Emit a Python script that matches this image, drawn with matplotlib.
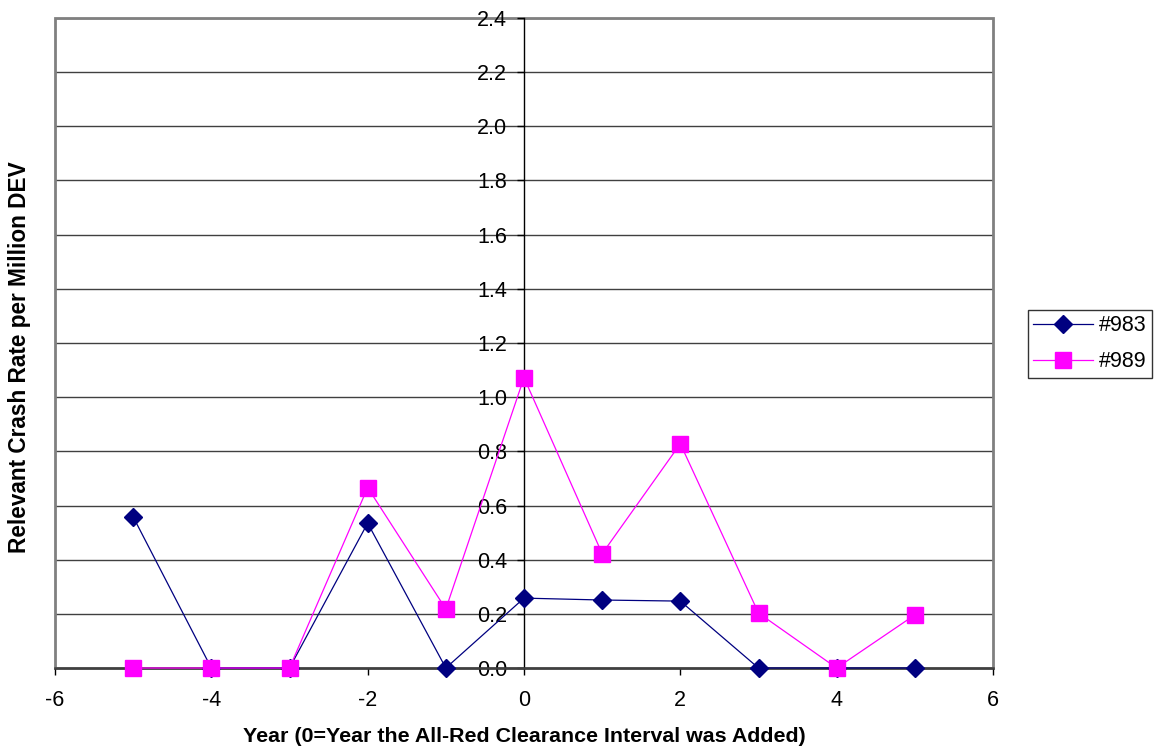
import matplotlib
matplotlib.use("Agg")
import matplotlib.pyplot as plt
from matplotlib.patches import Rectangle

plt.rcParams['font.family'] = ['Liberation Sans', 'DejaVu Sans']

years = [-5, -4, -3, -2, -1, 0, 1, 2, 3, 4, 5]
s983 = [0.558, 0.0, 0.0, 0.535, 0.0, 0.258, 0.251, 0.247, 0.0, 0.0, 0.0]
s989 = [0.0, 0.0, 0.0, 0.666, 0.218, 1.072, 0.422, 0.828, 0.203, 0.0, 0.196]
xticks = [-6, -4, -2, 0, 2, 4, 6]
yticks = [0.0, 0.2, 0.4, 0.6, 0.8, 1.0, 1.2, 1.4, 1.6, 1.8, 2.0, 2.2, 2.4]

W, H = 1161, 753
fig = plt.figure(figsize=(W / 100, H / 100), dpi=100)
ax = fig.add_axes([55 / W, 1 - 668 / H, (993 - 55) / W, (668 - 18) / H])

ax.set_xlim(-6, 6)
ax.set_ylim(0, 2.4)

for y in yticks[1:]:
    ax.axhline(y, color='#404040', lw=1.0, zorder=1)

ax.plot(years, s983, color='#000080', lw=0.9, marker='D', markersize=9,
        markerfacecolor='#000080', markeredgecolor='#000080', label='#983', zorder=3, clip_on=False)
ax.plot(years, s989, color='#FF00FF', lw=0.9, marker='s', markersize=11,
        markerfacecolor='#FF00FF', markeredgecolor='#FF00FF', label='#989', zorder=4, clip_on=False)

for s in ['top', 'right']:
    ax.spines[s].set_visible(False)
ax.spines['left'].set_position(('data', 0))
ax.spines['left'].set_color('black')
ax.spines['left'].set_linewidth(1.0)
ax.spines['left'].set_zorder(2)
ax.spines['bottom'].set_color('#404040')
ax.spines['bottom'].set_linewidth(1.8)

ax.add_patch(Rectangle((0, 0), 1, 1, transform=ax.transAxes, fill=False,
                       edgecolor='#808080', lw=2.0, zorder=1.5, clip_on=False))

ax.set_xticks(xticks)
ax.set_xticklabels([str(v) for v in xticks])
ax.set_yticks(yticks)
ax.set_yticklabels([f"{v:.1f}" for v in yticks])
ax.tick_params(axis='both', direction='out', length=5, width=1, color='black',
               labelsize=15.5)
ax.tick_params(axis='y', pad=7)
ax.tick_params(axis='x', pad=11)
for lbl in ax.get_yticklabels():
    lbl.set_zorder(5)

fig.text(524 / W, 1 - 737 / H, 'Year (0=Year the All-Red Clearance Interval was Added)',
         ha='center', va='center', fontsize=15.4, fontweight='bold')
fig.text(20 / W, 1 - 357 / H, 'Relevant Crash Rate per Million DEV',
         ha='center', va='center', rotation=90, fontsize=16.3, fontweight='bold')

leg = fig.legend(loc='upper left', bbox_to_anchor=(1028 / W, 1 - 310 / H),
                 fontsize=15.5, frameon=True, fancybox=False, borderaxespad=0,
                 handlelength=2.75, handletextpad=0.3, borderpad=0.25, labelspacing=0.7)
leg.get_frame().set_edgecolor('black')
leg.get_frame().set_linewidth(1.0)

fig.savefig('out.png', dpi=100)
